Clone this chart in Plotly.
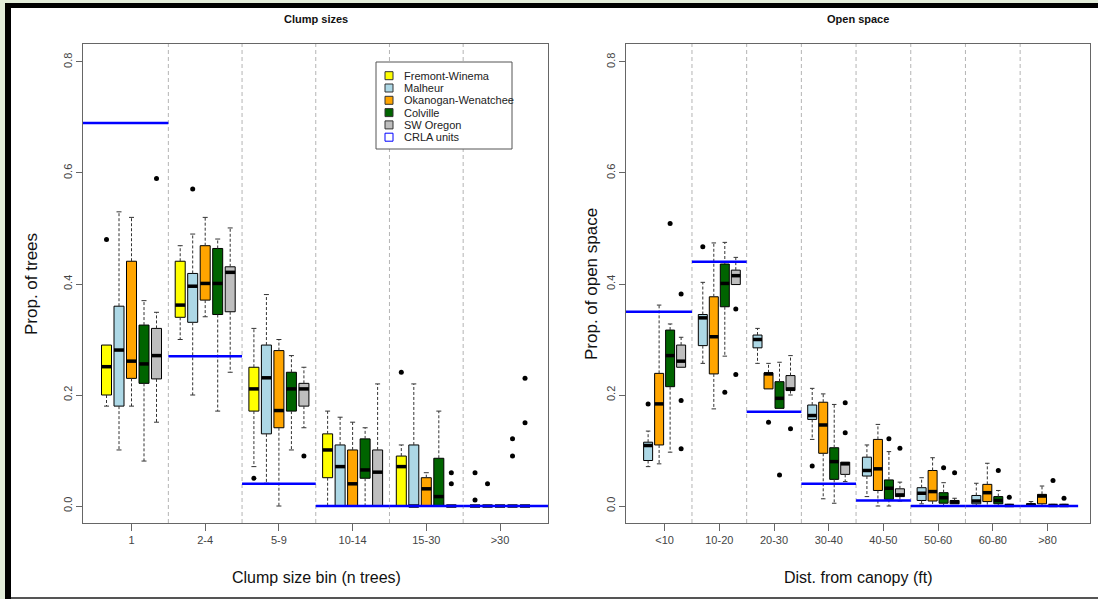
import plotly.graph_objects as go

W, H = 1098, 599

# ---------------- data ----------------
series = ["Fremont-Winema", "Malheur", "Okanogan-Wenatchee", "Colville", "SW Oregon"]
colors = ["#FFFF00", "#ADD8E6", "#FFA500", "#006400", "#BEBEBE"]

clump_bins = ["1", "2-4", "5-9", "10-14", "15-30", ">30"]
clump_crla = [0.69, 0.27, 0.04, 0.0, 0.0, 0.0]

# Clump sizes: per series, one value per bin
clump_q1 = {
    "Fremont-Winema":     [0.200, 0.340, 0.171, 0.051, 0.000, 0.0],
    "Malheur":            [0.180, 0.331, 0.130, 0.000, 0.000, 0.0],
    "Okanogan-Wenatchee": [0.230, 0.371, 0.141, 0.000, 0.000, 0.0],
    "Colville":           [0.221, 0.345, 0.171, 0.050, 0.000, 0.0],
    "SW Oregon":          [0.229, 0.350, 0.180, 0.000, 0.000, 0.0],
}
clump_med = {
    "Fremont-Winema":     [0.251, 0.362, 0.211, 0.101, 0.071, 0.0],
    "Malheur":            [0.281, 0.396, 0.231, 0.071, 0.000, 0.0],
    "Okanogan-Wenatchee": [0.261, 0.401, 0.172, 0.040, 0.031, 0.0],
    "Colville":           [0.256, 0.401, 0.211, 0.065, 0.017, 0.0],
    "SW Oregon":          [0.271, 0.421, 0.211, 0.061, 0.000, 0.0],
}
clump_q3 = {
    "Fremont-Winema":     [0.290, 0.441, 0.250, 0.130, 0.090, 0.0],
    "Malheur":            [0.360, 0.419, 0.290, 0.110, 0.110, 0.0],
    "Okanogan-Wenatchee": [0.441, 0.469, 0.280, 0.101, 0.051, 0.0],
    "Colville":           [0.326, 0.464, 0.241, 0.121, 0.086, 0.0],
    "SW Oregon":          [0.320, 0.431, 0.221, 0.101, 0.000, 0.0],
}
clump_lo = {
    "Fremont-Winema":     [0.180, 0.300, 0.071, 0.000, 0.000, 0.0],
    "Malheur":            [0.101, 0.200, 0.041, 0.000, 0.000, 0.0],
    "Okanogan-Wenatchee": [0.180, 0.341, 0.000, 0.000, 0.000, 0.0],
    "Colville":           [0.081, 0.171, 0.101, 0.000, 0.000, 0.0],
    "SW Oregon":          [0.151, 0.241, 0.141, 0.000, 0.000, 0.0],
}
clump_hi = {
    "Fremont-Winema":     [0.290, 0.469, 0.320, 0.171, 0.110, 0.0],
    "Malheur":            [0.530, 0.490, 0.381, 0.160, 0.220, 0.0],
    "Okanogan-Wenatchee": [0.520, 0.520, 0.300, 0.151, 0.060, 0.0],
    "Colville":           [0.370, 0.481, 0.271, 0.141, 0.171, 0.0],
    "SW Oregon":          [0.349, 0.501, 0.250, 0.220, 0.000, 0.0],
}
clump_out = {
    "Fremont-Winema":     [[0.480], [], [0.050], [], [0.241], [0.060, 0.011]],
    "Malheur":            [[], [0.571], [], [], [], [0.040]],
    "Okanogan-Wenatchee": [[], [], [], [], [], []],
    "Colville":           [[], [], [], [], [], [0.121, 0.090]],
    "SW Oregon":          [[0.590], [], [0.090], [], [0.060, 0.040], [0.230, 0.150]],
}

open_series = ["Malheur", "Okanogan-Wenatchee", "Colville", "SW Oregon"]
open_bins = ["<10", "10-20", "20-30", "30-40", "40-50", "50-60", "60-80", ">80"]
open_crla = [0.35, 0.44, 0.17, 0.04, 0.01, 0.0, 0.0, 0.0]

open_q1 = {
    "Malheur":            [0.082, 0.289, 0.285, 0.156, 0.054, 0.010, 0.004, 0.000],
    "Okanogan-Wenatchee": [0.110, 0.238, 0.211, 0.095, 0.028, 0.009, 0.008, 0.004],
    "Colville":           [0.215, 0.359, 0.176, 0.048, 0.012, 0.005, 0.004, 0.000],
    "SW Oregon":          [0.250, 0.399, 0.208, 0.057, 0.017, 0.004, 0.000, 0.000],
}
open_med = {
    "Malheur":            [0.109, 0.339, 0.300, 0.163, 0.064, 0.023, 0.009, 0.002],
    "Okanogan-Wenatchee": [0.184, 0.305, 0.238, 0.146, 0.067, 0.026, 0.024, 0.018],
    "Colville":           [0.271, 0.401, 0.194, 0.080, 0.032, 0.015, 0.010, 0.001],
    "SW Oregon":          [0.261, 0.415, 0.211, 0.076, 0.020, 0.007, 0.001, 0.001],
}
open_q3 = {
    "Malheur":            [0.115, 0.345, 0.308, 0.182, 0.088, 0.033, 0.019, 0.004],
    "Okanogan-Wenatchee": [0.239, 0.377, 0.240, 0.187, 0.120, 0.064, 0.039, 0.021],
    "Colville":           [0.317, 0.436, 0.224, 0.105, 0.047, 0.024, 0.017, 0.002],
    "SW Oregon":          [0.290, 0.425, 0.235, 0.079, 0.031, 0.010, 0.002, 0.002],
}
open_lo = {
    "Malheur":            [0.071, 0.257, 0.257, 0.120, 0.017, 0.004, 0.000, 0.000],
    "Okanogan-Wenatchee": [0.076, 0.175, 0.211, 0.013, 0.000, 0.000, 0.000, 0.000],
    "Colville":           [0.097, 0.270, 0.176, 0.005, 0.000, 0.000, 0.000, 0.000],
    "SW Oregon":          [0.250, 0.399, 0.200, 0.044, 0.009, 0.004, 0.000, 0.000],
}
open_hi = {
    "Malheur":            [0.135, 0.403, 0.320, 0.212, 0.110, 0.051, 0.041, 0.008],
    "Okanogan-Wenatchee": [0.362, 0.474, 0.257, 0.202, 0.147, 0.087, 0.077, 0.036],
    "Colville":           [0.328, 0.475, 0.259, 0.183, 0.098, 0.042, 0.028, 0.003],
    "SW Oregon":          [0.304, 0.448, 0.271, 0.079, 0.043, 0.014, 0.003, 0.003],
}
open_out = {
    "Malheur":            [[0.184], [0.467], [], [0.072], [], [], [], []],
    "Okanogan-Wenatchee": [[], [], [0.151], [], [], [], [], []],
    "Colville":           [[0.509], [0.205], [0.056], [], [0.121], [0.069], [0.064], [0.046]],
    "SW Oregon":          [[0.382, 0.190, 0.103], [0.355, 0.237], [0.139], [0.186, 0.132],
                           [0.104], [0.060], [0.016], [0.014]],
}

yticks = [0.0, 0.2, 0.4, 0.6, 0.8]
ytick_text = ["0.0", "0.2", "0.4", "0.6", "0.8"]

FONT = "Liberation Sans, Arial, Helvetica, sans-serif"

# ---------------- layout helpers ----------------
def px(x):
    return x / W

def py(y):
    return 1 - y / H

LEFT_RANGE = [-0.658, 5.651]
RIGHT_RANGE = [-0.706, 7.777]
Y_RANGE = [-0.0306, 0.8324]

fig = go.Figure()
shapes = []
annotations = []


def add_panel(xa, ya, names, bins, q1, med, q3, lo, hi, out, offsets, bw, crla, xr, crla_end):
    xref = "x" if xa == "xaxis" else "x2"
    yref = "y" if ya == "yaxis" else "y2"
    n = len(bins)
    # separators
    for k in range(n - 1):
        shapes.append(dict(type="line", xref=xref, yref=yref + " domain",
                           x0=k + 0.5, x1=k + 0.5, y0=0, y1=1, layer="below",
                           line=dict(color="#b4b4b4", width=1, dash="4px,3px")))
    for j, s in enumerate(names):
        col = colors[series.index(s)]
        xs = [k + offsets[j] for k in range(n)]
        # boxes
        bx, bb, bh = [], [], []
        for k in range(n):
            if q3[s][k] > q1[s][k]:
                bx.append(xs[k]); bb.append(q1[s][k]); bh.append(q3[s][k] - q1[s][k])
        fig.add_trace(go.Bar(x=bx, y=bh, base=bb, width=bw, xaxis=xref, yaxis=yref,
                             marker=dict(color=col, line=dict(color="#000000", width=1)),
                             showlegend=False, hoverinfo="skip"))
        # whiskers (dashed)
        wx, wy, sx, sy = [], [], [], []
        for k in range(n):
            if hi[s][k] > q3[s][k]:
                wx += [xs[k], xs[k], None]; wy += [q3[s][k], hi[s][k], None]
                sx += [xs[k] - bw / 4, xs[k] + bw / 4, None]; sy += [hi[s][k], hi[s][k], None]
            if lo[s][k] < q1[s][k]:
                wx += [xs[k], xs[k], None]; wy += [q1[s][k], lo[s][k], None]
                sx += [xs[k] - bw / 4, xs[k] + bw / 4, None]; sy += [lo[s][k], lo[s][k], None]
        fig.add_trace(go.Scatter(x=wx, y=wy, mode="lines", xaxis=xref, yaxis=yref,
                                 line=dict(color="#333333", width=1, dash="3px,2px"),
                                 showlegend=False, hoverinfo="skip"))
        fig.add_trace(go.Scatter(x=sx, y=sy, mode="lines", xaxis=xref, yaxis=yref,
                                 line=dict(color="#333333", width=1),
                                 showlegend=False, hoverinfo="skip"))
        # medians
        mx, my = [], []
        for k in range(n):
            mx += [xs[k] - bw / 2, xs[k] + bw / 2, None]; my += [med[s][k], med[s][k], None]
        fig.add_trace(go.Scatter(x=mx, y=my, mode="lines", xaxis=xref, yaxis=yref,
                                 line=dict(color="#000000", width=3.5),
                                 showlegend=False, hoverinfo="skip"))
        # outliers
        ox, oy = [], []
        for k in range(n):
            for v in out[s][k]:
                ox.append(xs[k]); oy.append(v)
        fig.add_trace(go.Scatter(x=ox, y=oy, mode="markers", xaxis=xref, yaxis=yref,
                                 marker=dict(color="#000000", size=5),
                                 showlegend=False, hoverinfo="skip"))
    # CRLA reference segments
    cx, cy = [], []
    for k in range(n):
        x0 = xr[0] if k == 0 else k - 0.5
        x1 = crla_end if k == n - 1 else k + 0.5
        cx += [x0, x1, None]; cy += [crla[k], crla[k], None]
    fig.add_trace(go.Scatter(x=cx, y=cy, mode="lines", xaxis=xref, yaxis=yref,
                             line=dict(color="#0000FF", width=2.5),
                             showlegend=False, hoverinfo="skip"))


lw = 10 / 73.7
add_panel("xaxis", "yaxis", series, clump_bins, clump_q1, clump_med, clump_q3,
          clump_lo, clump_hi, clump_out, [(j - 2) * 12.5 / 73.7 for j in range(5)],
          lw, clump_crla, LEFT_RANGE, LEFT_RANGE[1])
rw = 9 / 54.7
add_panel("xaxis2", "yaxis2", open_series, open_bins, open_q1, open_med, open_q3,
          open_lo, open_hi, open_out, [(j - 1.5) * 11 / 54.7 for j in range(4)],
          rw, open_crla, RIGHT_RANGE, 7.56)

axis_common = dict(showgrid=False, zeroline=False, showline=True, mirror=True,
                   linecolor="#666666", linewidth=1, ticks="outside", tickcolor="#666666",
                   tickfont=dict(family=FONT, size=11, color="#444444"), fixedrange=True)

ydom = [py(523), py(44)]
fig.update_layout(
    width=W, height=H, margin=dict(l=0, r=0, t=0, b=0), autosize=False,
    paper_bgcolor="#ffffff", plot_bgcolor="#ffffff", barmode="overlay",
    showlegend=False, font=dict(family=FONT),
    xaxis=dict(domain=[px(83), px(548)], range=LEFT_RANGE, tickmode="array",
               tickvals=list(range(len(clump_bins))), ticktext=clump_bins, ticklen=7,
               **axis_common),
    yaxis=dict(domain=ydom, range=Y_RANGE, tickmode="array", tickvals=yticks,
               ticktext=ytick_text, ticklen=6, tickangle=-90, **axis_common),
    xaxis2=dict(domain=[px(626), px(1090)], range=RIGHT_RANGE, anchor="y2", tickmode="array",
                tickvals=list(range(len(open_bins))), ticktext=open_bins, ticklen=7,
                **axis_common),
    yaxis2=dict(domain=ydom, range=Y_RANGE, anchor="x2", tickmode="array", tickvals=yticks,
                ticktext=ytick_text, ticklen=6, tickangle=-90, **axis_common),
)

# titles and axis labels
def ann(text, x, y, size, bold=False, angle=0, color="#111111"):
    annotations.append(dict(text=("<b>%s</b>" % text) if bold else text,
                            xref="paper", yref="paper", x=px(x), y=py(y),
                            xanchor="center", yanchor="middle", showarrow=False,
                            textangle=angle, font=dict(family=FONT, size=size, color=color)))

ann("Clump sizes", 316, 19, 11, bold=True)
ann("Open space", 858, 19, 11, bold=True)
ann("Clump size bin (n trees)", 316, 577, 16)
ann("Dist. from canopy (ft)", 858, 577, 16)
ann("Prop. of trees", 31, 284, 17, angle=-90)
ann("Prop. of open space", 591, 284, 17, angle=-90)

# legend (drawn manually to match compact R legend)
leg_labels = series + ["CRLA units"]
shapes.append(dict(type="rect", xref="paper", yref="paper", x0=px(376), x1=px(512),
                   y0=py(149), y1=py(62), line=dict(color="#555555", width=1),
                   fillcolor="#ffffff", layer="above"))
for i, lab in enumerate(leg_labels):
    yc = 75.7 + i * 12.3
    if i < len(series):
        shapes.append(dict(type="rect", xref="paper", yref="paper",
                           x0=px(385), x1=px(393), y0=py(yc + 4), y1=py(yc - 4),
                           fillcolor=colors[i], line=dict(color="#333333", width=1)))
    else:
        shapes.append(dict(type="rect", xref="paper", yref="paper",
                           x0=px(385), x1=px(393), y0=py(yc + 4), y1=py(yc - 4),
                           fillcolor="#ffffff", line=dict(color="#0000FF", width=1)))
    annotations.append(dict(text=lab, xref="paper", yref="paper", x=px(402), y=py(yc),
                            xanchor="left", yanchor="middle", showarrow=False,
                            font=dict(family=FONT, size=11, color="#222222")))

# outer frame of the page image
shapes += [
    dict(type="rect", xref="paper", yref="paper", x0=0, x1=px(5), y0=0, y1=1,
         fillcolor="#e2ecd9", line=dict(width=0)),
    dict(type="rect", xref="paper", yref="paper", x0=0, x1=1, y0=py(3), y1=1,
         fillcolor="#e2ecd9", line=dict(width=0)),
    dict(type="rect", xref="paper", yref="paper", x0=px(5), x1=px(11), y0=0, y1=py(3),
         fillcolor="#000000", line=dict(width=0)),
    dict(type="rect", xref="paper", yref="paper", x0=px(5), x1=1, y0=py(8), y1=py(3),
         fillcolor="#000000", line=dict(width=0)),
    dict(type="rect", xref="paper", yref="paper", x0=px(11), x1=1, y0=0, y1=py(597),
         fillcolor="#555555", line=dict(width=0)),
]

fig.update_layout(shapes=shapes, annotations=annotations)
fig.write_html("out.html")
